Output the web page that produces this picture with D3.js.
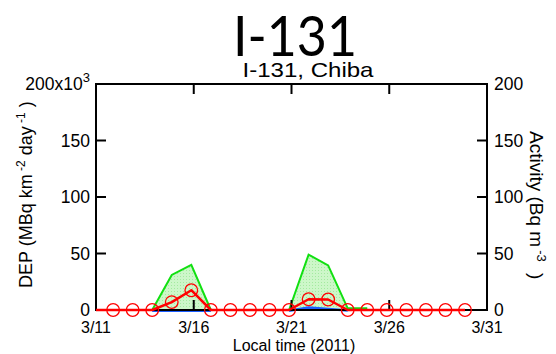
<!DOCTYPE html>
<html>
<head>
<meta charset="utf-8">
<script src="https://cdn.jsdelivr.net/npm/d3@7"></script>
<style>
  html, body { margin: 0; padding: 0; background: #fff; }
  svg { display: block; }
  text { font-family: "Liberation Sans", Arial, sans-serif; fill: #000; }
</style>
</head>
<body>
<svg id="chart" width="556" height="354"></svg>
<script>
// ---- data (sampling times are 21:00 local on the previous day) ----
const sampleTimes = [
  "2011-03-10T21:00", "2011-03-11T21:00", "2011-03-12T21:00", "2011-03-13T21:00",
  "2011-03-14T21:00", "2011-03-15T21:00", "2011-03-16T21:00", "2011-03-17T21:00",
  "2011-03-18T21:00", "2011-03-19T21:00", "2011-03-20T21:00", "2011-03-21T21:00",
  "2011-03-22T21:00", "2011-03-23T21:00", "2011-03-24T21:00", "2011-03-25T21:00",
  "2011-03-26T21:00", "2011-03-27T21:00", "2011-03-28T21:00", "2011-03-29T21:00"
];
// deposition (MBq km-2 day-1), green filled series
const depTotal = [null, null, null, 0, 31000, 40000, 0, null, null, null,
                  0, 49000, 39500, 1500, 1500, null, null, null, null, null];
// deposition, blue series
const depBlue  = [null, null, null, 0, 0, 0, 0, null, null, null,
                  0, 2900, 1500, 300, null, null, null, null, null, null];
// activity (Bq m-3), red line with circles
const activity = [0, 0, 0, 0, 7.0, 17.5, 0, 0, 0, 0,
                  0, 9.5, 9.3, 0, 0, 0, 0, 0, 0, 0];
const xTickLabels = ["3/11", "3/16", "3/21", "3/26", "3/31"];
const leftTicks = [0, 50000, 100000, 150000, 200000];
const rightTicks = [0, 50, 100, 150, 200];
const title = "I-131";
const subtitle = "I-131, Chiba";

// ---- layout ----
const svg = d3.select("#chart");
const L = 96, R = 487, T = 84, B = 310;
const parseT = d3.timeParse("%Y-%m-%dT%H:%M");
const parseTick = s => { const [m, d] = s.split("/").map(Number); return new Date(2011, m - 1, d); };
const times = sampleTimes.map(parseT);
const tickDates = xTickLabels.map(parseTick);

const x = d3.scaleTime().domain([tickDates[0], tickDates[tickDates.length - 1]]).range([L, R]);
const yL = d3.scaleLinear().domain([0, 200000]).range([B, T]);
const yR = d3.scaleLinear().domain([0, 200]).range([B, T]);

const defs = svg.append("defs");
defs.append("clipPath").attr("id", "clip")
  .append("rect").attr("x", L).attr("y", T - 2).attr("width", R - L).attr("height", B - T + 4);
const pat = defs.append("pattern").attr("id", "dots")
  .attr("width", 3).attr("height", 3).attr("patternUnits", "userSpaceOnUse");
pat.append("rect").attr("width", 3).attr("height", 3).attr("fill", "#cdf7c9");
pat.append("rect").attr("width", 1).attr("height", 1).attr("fill", "#a4eaa0");

// ---- titles ----
svg.append("text").attr("x", 295).attr("y", 56).attr("text-anchor", "middle")
  .style("font-family", "Lato, 'DejaVu Sans', sans-serif").style("font-size", "56px")
  .attr("textLength", 124).attr("lengthAdjust", "spacingAndGlyphs").text(title);
svg.append("text").attr("x", 308).attr("y", 77).attr("text-anchor", "middle")
  .style("font-size", "21px").attr("textLength", 131).attr("lengthAdjust", "spacingAndGlyphs")
  .text(subtitle);

// ---- data ----
const g = svg.append("g").attr("clip-path", "url(#clip)");
const idx = d3.range(times.length);

const area = d3.area().defined(i => depTotal[i] !== null)
  .x(i => x(times[i])).y0(yL(0)).y1(i => yL(depTotal[i]));
const line = d3.line().defined(i => depTotal[i] !== null)
  .x(i => x(times[i])).y(i => yL(depTotal[i]));
g.append("path").attr("d", area(idx)).attr("fill", "url(#dots)");

const blueArea = d3.area().defined(i => depBlue[i] !== null)
  .x(i => x(times[i])).y0(yL(0)).y1(i => yL(depBlue[i]));
g.append("path").attr("d", blueArea(idx)).attr("fill", "#9aa6c8").attr("opacity", 0.6);

g.append("path").attr("d", line(idx)).attr("fill", "none")
  .attr("stroke", "#11e011").attr("stroke-width", 2).attr("stroke-linejoin", "miter");

const blueLine = d3.line().defined(i => depBlue[i] !== null)
  .x(i => x(times[i])).y(i => yL(depBlue[i]) + 0.8);
g.append("path").attr("d", blueLine(idx)).attr("fill", "none")
  .attr("stroke", "#1a5cff").attr("stroke-width", 2.5);

// ---- axes frame ----
const ax = svg.append("g").attr("stroke", "#000").attr("stroke-width", 2).attr("fill", "none");
ax.append("rect").attr("x", L).attr("y", T).attr("width", R - L).attr("height", B - T);
const tl = 10;
tickDates.slice(1, -1).forEach(d => {
  ax.append("line").attr("x1", x(d)).attr("x2", x(d)).attr("y1", B).attr("y2", B - tl);
  ax.append("line").attr("x1", x(d)).attr("x2", x(d)).attr("y1", T).attr("y2", T + tl);
});
leftTicks.slice(1, -1).forEach(v => {
  ax.append("line").attr("x1", L).attr("x2", L + tl).attr("y1", yL(v)).attr("y2", yL(v));
});
rightTicks.slice(1, -1).forEach(v => {
  ax.append("line").attr("x1", R).attr("x2", R - tl).attr("y1", yR(v)).attr("y2", yR(v));
});

// red activity series on top
const redLine = d3.line().x(i => x(times[i])).y(i => yR(activity[i]));
const gr = svg.append("g").attr("clip-path", "url(#clip)");
gr.append("path").attr("d", redLine(idx)).attr("fill", "none")
  .attr("stroke", "#ff0000").attr("stroke-width", 2.5).attr("stroke-linejoin", "round");
svg.append("g").selectAll("circle").data(idx.filter(i => times[i] >= x.domain()[0]))
  .join("circle").attr("cx", i => x(times[i])).attr("cy", i => yR(activity[i]))
  .attr("r", 6.3).attr("fill", "none").attr("stroke", "#ff0000").attr("stroke-width", 1.3);

// ---- tick labels ----
const fs = "17.5px";
svg.append("g").selectAll("text").data(tickDates).join("text")
  .attr("x", d => x(d)).attr("y", 333).attr("text-anchor", "middle")
  .style("font-size", "16px").text((d, i) => xTickLabels[i]);
const lt = svg.append("g");
leftTicks.forEach(v => {
  const t = lt.append("text").attr("x", 90).attr("y", yL(v) + 6).attr("text-anchor", "end")
    .style("font-size", fs);
  if (v === 200000) {
    t.append("tspan").text(d3.format("d")(v / 1000) + "x10");
    t.append("tspan").attr("dy", -8).style("font-size", "13px").text("3");
  } else {
    t.text(d3.format("d")(v / 1000));
  }
});
svg.append("g").selectAll("text").data(rightTicks).join("text")
  .attr("x", 494).attr("y", v => yR(v) + 6).attr("text-anchor", "start")
  .style("font-size", fs).text(v => v);

// ---- axis titles ----
svg.append("text").attr("x", 294).attr("y", 351).attr("text-anchor", "middle")
  .style("font-size", "16px").text("Local time (2011)");

const ylab = svg.append("text").attr("transform", "translate(32,288) rotate(-90)")
  .attr("text-anchor", "start").style("font-size", "18px");
ylab.append("tspan").text("DEP (MBq km");
ylab.append("tspan").attr("dy", -7).style("font-size", "12px").text(" -2");
ylab.append("tspan").attr("dy", 7).text("  day");
ylab.append("tspan").attr("dy", -7).style("font-size", "12px").text(" -1");
ylab.append("tspan").attr("dy", 7).text(" )");

const rlab = svg.append("text").attr("transform", "translate(530,131) rotate(90)")
  .attr("text-anchor", "start").style("font-size", "19px");
rlab.append("tspan").text("Activity (Bq m");
rlab.append("tspan").attr("dy", -7).attr("dx", 3).style("font-size", "13px").text("-3");
rlab.append("tspan").attr("dy", 7).attr("dx", 6).text(" )");
</script>
</body>
</html>
